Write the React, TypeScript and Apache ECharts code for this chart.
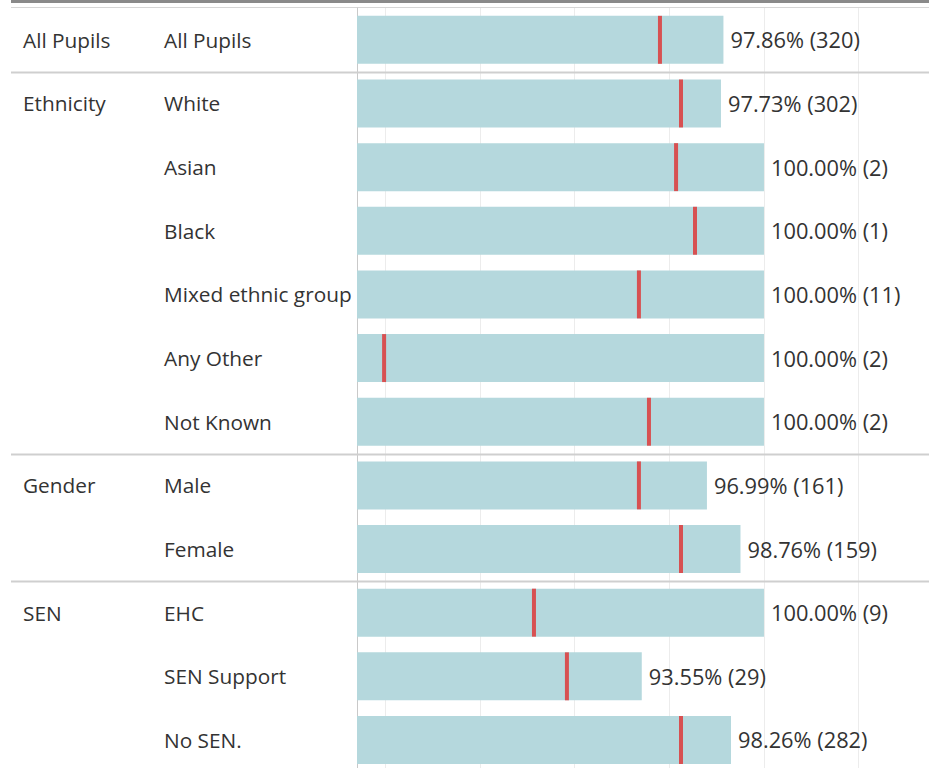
import React, { useEffect, useRef } from "react";
import * as echarts from "echarts";

const groups = ["All Pupils", "Ethnicity", "", "", "", "", "", "Gender", "", "SEN", "", ""];
const categories = [
  "All Pupils",
  "White",
  "Asian",
  "Black",
  "Mixed ethnic group",
  "Any Other",
  "Not Known",
  "Male",
  "Female",
  "EHC",
  "SEN Support",
  "No SEN.",
];
const rates = [97.86, 97.73, 100, 100, 100, 100, 100, 96.99, 98.76, 100, 93.55, 98.26];
const counts = [320, 302, 2, 1, 11, 2, 2, 161, 159, 9, 29, 282];
const benchmarks = [94.51, 95.62, 95.36, 96.36, 93.4, 79.95, 93.93, 93.4, 95.62, 87.86, 89.6, 95.62];

const FONT = "'Open Sans', 'Noto Sans', sans-serif";
const TEXT = "#333333";
const FS = 20.8;
const FS_VAL = 21.8;

export default function App() {
  const ref = useRef<HTMLDivElement>(null);
  useEffect(() => {
    if (!ref.current) return;
    const chart = echarts.init(ref.current, undefined, { renderer: "svg" });
    const rowH = 63.65;
    chart.setOption({
      animation: false,
      grid: {
        left: 357,
        top: 8,
        width: 929 - 357,
        height: rowH * categories.length,
        containLabel: false,
        outerBoundsMode: "none",
      },
      xAxis: {
        type: "value",
        min: 78.52,
        max: 108.71,
        splitNumber: 6,
        axisLabel: { show: false },
        axisLine: { show: false },
        axisTick: { show: false },
        splitLine: { show: true, lineStyle: { color: "#ececec", width: 1 } },
      },
      yAxis: [
        {
          type: "category",
          position: "left",
          inverse: true,
          data: categories,
          axisLine: { show: true, lineStyle: { color: "#c9c9c9", width: 1 } },
          axisTick: { show: false },
          axisLabel: {
            margin: 357 - 164,
            align: "left",
            fontSize: FS,
            fontFamily: FONT,
            color: TEXT,
            interval: 0,
          },
        },
        {
          type: "category",
          position: "left",
          offset: 0,
          inverse: true,
          data: groups,
          axisLine: { show: false },
          axisTick: { show: false },
          axisLabel: {
            margin: 357 - 23,
            align: "left",
            fontSize: FS,
            fontFamily: FONT,
            color: TEXT,
            interval: 0,
          },
        },
      ],
      series: [
        {
          type: "bar",
          yAxisIndex: 0,
          data: rates,
          barWidth: 48,
          itemStyle: { color: "#b5d8dd" },
          label: {
            show: true,
            position: "right",
            distance: 7,
            fontSize: FS_VAL,
            fontFamily: FONT,
            color: TEXT,
            formatter: (p: any) => `${rates[p.dataIndex].toFixed(2)}% (${counts[p.dataIndex]})`,
          },
          z: 2,
        },
        {
          type: "scatter",
          yAxisIndex: 0,
          data: benchmarks.map((v, i) => [v, i]),
          symbol: "rect",
          symbolSize: [4, 48],
          itemStyle: { color: "#e02f2f" },
          z: 3,
        },
      ],
    });

    const W = 929;
    const lines: any[] = [
      { type: "rect", shape: { x: 11, y: 0, width: W - 11, height: 3 }, style: { fill: "#8a8a8a" } },
      { type: "line", shape: { x1: 11, y1: 7.5, x2: W, y2: 7.5 }, style: { stroke: "#d6d6d6", lineWidth: 1 } },
    ];
    groups.forEach((g, i) => {
      if (i > 0 && g !== "") {
        const a = chart.convertToPixel({ yAxisIndex: 0 }, i - 1) as number;
        const b = chart.convertToPixel({ yAxisIndex: 0 }, i) as number;
        const y = Math.round((a + b) / 2) + 0.5;
        lines.push({
          type: "line",
          shape: { x1: 11, y1: y, x2: W, y2: y },
          style: { stroke: "#cfcfcf", lineWidth: 2 },
          z: 10,
        });
      }
    });
    chart.setOption({ graphic: lines });
    return () => chart.dispose();
  }, []);
  return (
    <div
      ref={ref}
      style={{ position: "absolute", left: 0, top: 0, width: 929, height: 768, background: "#ffffff" }}
    />
  );
}
